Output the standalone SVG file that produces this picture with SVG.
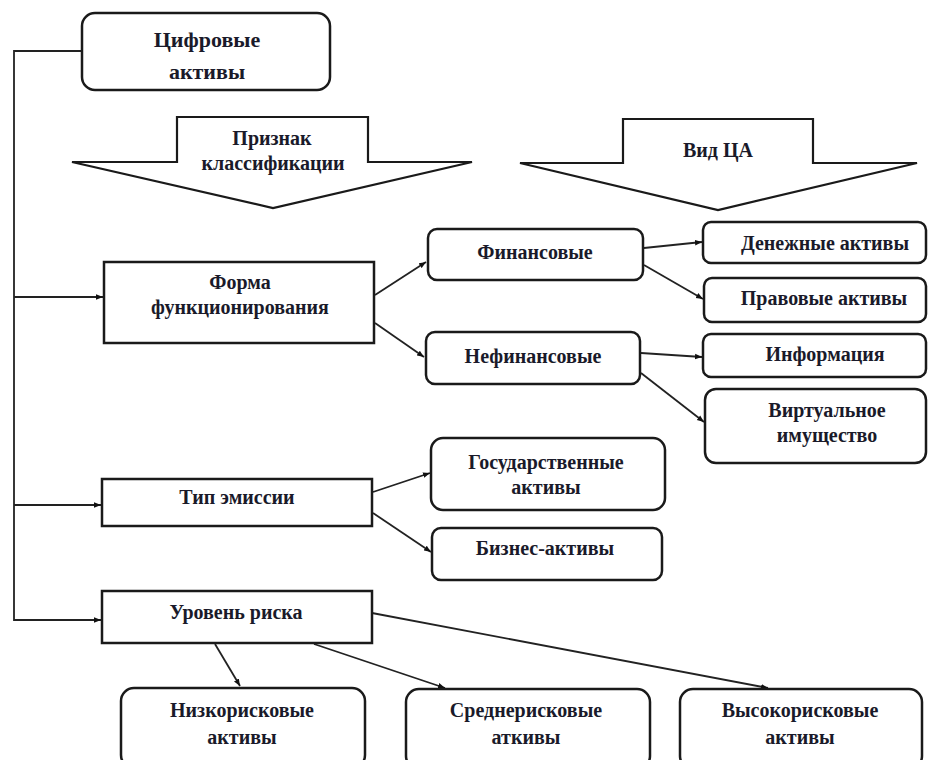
<svg xmlns="http://www.w3.org/2000/svg" width="938" height="760" viewBox="0 0 938 760">
<style>
  .box{fill:#fff;stroke:#1a1a1a;stroke-width:2.5}
  .arr{fill:#fff;stroke:#1a1a1a;stroke-width:2.2;stroke-linejoin:miter}
  .t{font-family:"Liberation Serif","Times New Roman",serif;font-weight:bold;font-size:20px;fill:#1a1a2a;text-anchor:middle}
  .c{fill:none;stroke:#222;stroke-width:1.8}
</style>
<defs>
  <marker id="ah" viewBox="0 0 10 10" refX="10" refY="5" markerWidth="7" markerHeight="7" markerUnits="userSpaceOnUse" orient="auto">
    <path d="M0,1 L10,5 L0,9 z" fill="#111"/>
  </marker>
</defs>
<rect width="938" height="760" fill="#fff"/>
<g id="connectors">
  <polyline class="c" points="82,51 14,51 14,620 101,620" marker-end="url(#ah)"/>
  <line class="c" x1="14" y1="297" x2="103" y2="297" marker-end="url(#ah)"/>
  <line class="c" x1="14" y1="505" x2="101" y2="505" marker-end="url(#ah)"/>
  <line class="c" x1="375" y1="295" x2="426" y2="262" marker-end="url(#ah)"/>
  <line class="c" x1="375" y1="323" x2="424" y2="357" marker-end="url(#ah)"/>
  <line class="c" x1="644" y1="248" x2="702" y2="242" marker-end="url(#ah)"/>
  <line class="c" x1="644" y1="265" x2="703" y2="299" marker-end="url(#ah)"/>
  <line class="c" x1="641" y1="353" x2="702" y2="357" marker-end="url(#ah)"/>
  <line class="c" x1="641" y1="373" x2="704" y2="422" marker-end="url(#ah)"/>
  <line class="c" x1="373" y1="492" x2="430" y2="473" marker-end="url(#ah)"/>
  <line class="c" x1="373" y1="513" x2="431" y2="552" marker-end="url(#ah)"/>
  <line class="c" x1="215" y1="644" x2="240" y2="686" marker-end="url(#ah)"/>
  <line class="c" x1="314" y1="644" x2="445" y2="688" marker-end="url(#ah)"/>
  <line class="c" x1="372" y1="613" x2="768" y2="688" marker-end="url(#ah)"/>
</g>
<g id="n-digital">
  <rect class="box" x="82" y="13" width="248" height="77" rx="13"/>
  <text class="t" x="207" y="47" style="font-size:22px">Цифровые</text>
  <text class="t" x="207" y="79" style="font-size:22px">активы</text>
</g>
<g id="n-sign">
  <polygon class="arr" points="177,117 368,117 368,162 472,162 273,208 72,162 177,162"/>
  <text class="t" x="272" y="145">Признак</text>
  <text class="t" x="273" y="170">классификации</text>
</g>
<g id="n-kind">
  <polygon class="arr" points="623,119 813,119 813,163 917,163 718,210 520,163 623,163"/>
  <text class="t" x="718" y="157">Вид ЦА</text>
</g>
<g id="n-form">
  <rect class="box" x="104" y="262" width="270" height="81"/>
  <text class="t" x="240" y="289">Форма</text>
  <text class="t" x="240" y="314">функционирования</text>
</g>
<g id="n-fin">
  <rect class="box" x="428" y="229" width="215" height="51" rx="9"/>
  <text class="t" x="535" y="259">Финансовые</text>
</g>
<g id="n-nonfin">
  <rect class="box" x="426" y="332" width="214" height="52" rx="9"/>
  <text class="t" x="533" y="363">Нефинансовые</text>
</g>
<g id="n-money">
  <rect class="box" x="703" y="222" width="223" height="41" rx="8"/>
  <text class="t" x="825" y="250">Денежные активы</text>
</g>
<g id="n-legal">
  <rect class="box" x="704" y="278" width="222" height="44" rx="8"/>
  <text class="t" x="824" y="305">Правовые активы</text>
</g>
<g id="n-info">
  <rect class="box" x="703" y="334" width="223" height="43" rx="8"/>
  <text class="t" x="825" y="361">Информация</text>
</g>
<g id="n-virtual">
  <rect class="box" x="705" y="389" width="221" height="74" rx="11"/>
  <text class="t" x="827" y="417">Виртуальное</text>
  <text class="t" x="827" y="442">имущество</text>
</g>
<g id="n-emission">
  <rect class="box" x="102" y="479" width="270" height="47"/>
  <text class="t" x="237" y="504">Тип эмиссии</text>
</g>
<g id="n-gov">
  <rect class="box" x="431" y="438" width="234" height="72" rx="12"/>
  <text class="t" x="546" y="469">Государственные</text>
  <text class="t" x="546" y="494">активы</text>
</g>
<g id="n-biz">
  <rect class="box" x="432" y="528" width="230" height="52" rx="9"/>
  <text class="t" x="545" y="555">Бизнес-активы</text>
</g>
<g id="n-risk">
  <rect class="box" x="102" y="591" width="270" height="52"/>
  <text class="t" x="236" y="619">Уровень риска</text>
</g>
<g id="n-low">
  <rect class="box" x="121" y="688" width="244" height="80" rx="13"/>
  <text class="t" x="242" y="717">Низкорисковые</text>
  <text class="t" x="242" y="744">активы</text>
</g>
<g id="n-mid">
  <rect class="box" x="406" y="689" width="244" height="80" rx="13"/>
  <text class="t" x="526" y="717">Среднерисковые</text>
  <text class="t" x="526" y="744">аткивы</text>
</g>
<g id="n-high">
  <rect class="box" x="680" y="689" width="242" height="80" rx="13"/>
  <text class="t" x="800" y="717">Высокорисковые</text>
  <text class="t" x="800" y="744">активы</text>
</g>
</svg>
